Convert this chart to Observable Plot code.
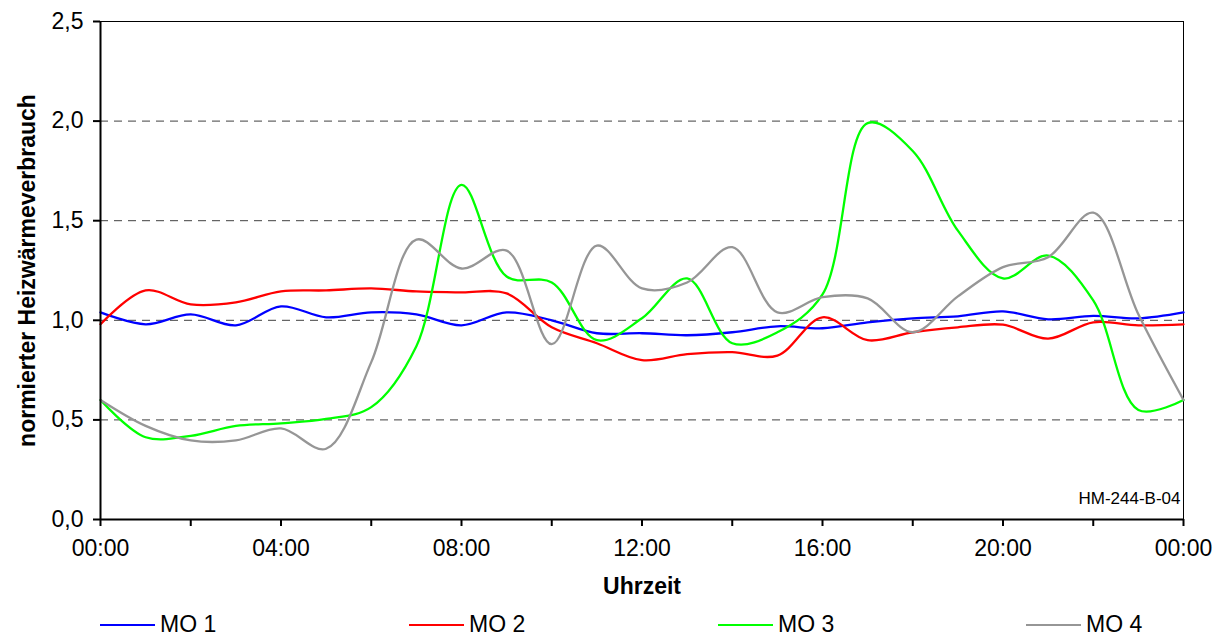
<!DOCTYPE html>
<html>
<head>
<meta charset="utf-8">
<script src="https://cdn.jsdelivr.net/npm/d3@7"></script>
<script src="https://cdn.jsdelivr.net/npm/@observablehq/plot@0.6"></script>
<style>
  html, body { margin: 0; padding: 0; background: #fff; }
  #chart { position: relative; width: 1224px; height: 637px; font-family: "Liberation Sans", Arial, sans-serif; }
  #legend { position: absolute; left: 0; top: 612px; width: 1224px; height: 25px; }
  .item { position: absolute; top: 0; height: 25px; display: flex; align-items: center; font-size: 23px; color: #000; }
  .swatch { width: 55px; height: 0; border-top: 2.5px solid; margin-right: 5px; }
</style>
</head>
<body>
<div id="chart"></div>
<script>
// Hourly measurement points over one day (0 = 00:00 ... 24 = 00:00 next day)
const hours = [0, 1, 2, 3, 4, 5, 6, 7, 8, 9, 10, 11, 12, 13, 14, 15, 16, 17, 18, 19, 20, 21, 22, 23, 24];

// Normalised heat consumption per monitored object
const mo1 = [1.04, 0.98, 1.03, 0.975, 1.07, 1.015, 1.04, 1.03, 0.975, 1.04, 1.0, 0.935, 0.935, 0.925, 0.94, 0.97, 0.96, 0.99, 1.01, 1.02, 1.045, 1.005, 1.022, 1.01, 1.04];
const mo2 = [0.98, 1.15, 1.08, 1.09, 1.145, 1.15, 1.16, 1.145, 1.14, 1.135, 0.965, 0.885, 0.80, 0.83, 0.84, 0.823, 1.015, 0.90, 0.94, 0.965, 0.978, 0.908, 0.99, 0.975, 0.98];
const mo3 = [0.60, 0.413, 0.42, 0.47, 0.483, 0.505, 0.564, 0.87, 1.68, 1.22, 1.19, 0.90, 1.01, 1.21, 0.885, 0.94, 1.13, 1.99, 1.85, 1.45, 1.21, 1.325, 1.10, 0.55, 0.60];
const mo4 = [0.60, 0.47, 0.397, 0.397, 0.457, 0.355, 0.79, 1.405, 1.26, 1.35, 0.88, 1.375, 1.16, 1.19, 1.367, 1.04, 1.116, 1.11, 0.94, 1.12, 1.267, 1.317, 1.54, 1.03, 0.60];

const seriesNames = ["MO 1", "MO 2", "MO 3", "MO 4"];
const seriesValues = [mo1, mo2, mo3, mo4];
const seriesColors = ["#0000ff", "#ff0000", "#00ff00", "#969696"];

// Axis ticks and labels
const xTicks = [0, 2, 4, 6, 8, 10, 12, 14, 16, 18, 20, 22, 24];
const xLabelTicks = [0, 4, 8, 12, 16, 20, 24];
const xTickLabels = ["00:00", "04:00", "08:00", "12:00", "16:00", "20:00", "00:00"];
const yTicks = [0, 0.5, 1.0, 1.5, 2.0, 2.5];
const yGrid = [0.5, 1.0, 1.5, 2.0];

const rows = seriesNames.flatMap((name, i) =>
  hours.map((h, j) => ({series: name, hour: h, value: seriesValues[i][j]}))
);

const font = "'Liberation Sans', Arial, sans-serif";

const plot = Plot.plot({
  width: 1224,
  height: 610,
  marginLeft: 100,
  marginRight: 41,
  marginTop: 21,
  marginBottom: 91,
  style: {fontFamily: font, fontSize: "23px", color: "#000", background: "#fff", overflow: "visible"},
  x: {domain: [0, 24], axis: null},
  y: {domain: [0, 2.5], axis: null},
  color: {domain: seriesNames, range: seriesColors},
  marks: [
    // dashed horizontal gridlines
    Plot.ruleY(yGrid, {stroke: "#404040", strokeWidth: 1, strokeDasharray: "8,6"}),
    // plot frame: top and right thin borders
    Plot.ruleY([2.5], {stroke: "#000", strokeWidth: 1}),
    Plot.ruleX([24], {stroke: "#000", strokeWidth: 1}),
    // series
    Plot.line(rows, {x: "hour", y: "value", z: "series", stroke: "series", strokeWidth: 2.3, curve: "catmull-rom"}),
    // axes
    Plot.axisY({ticks: yTicks, tickSize: 7, tickPadding: 10, tickFormat: d => d.toFixed(1).replace(".", ","), strokeWidth: 2, label: null, fontSize: 23}),
    Plot.axisX({ticks: xTicks, tickSize: 7, tickPadding: 0, tickFormat: () => "", strokeWidth: 2, label: null}),
    Plot.text(xLabelTicks, {x: d => d, frameAnchor: "bottom", dy: 36, text: (d, i) => xTickLabels[i], fontSize: 23}),
    Plot.ruleX([0], {stroke: "#000", strokeWidth: 2}),
    Plot.ruleY([0], {stroke: "#000", strokeWidth: 2}),
    // axis titles
    Plot.text(["normierter Heizwärmeverbrauch"], {frameAnchor: "left", textAnchor: "middle", dx: -73, rotate: -90, fontWeight: "bold", fontSize: 23}),
    Plot.text(["Uhrzeit"], {frameAnchor: "bottom", dy: 74, fontWeight: "bold", fontSize: 23}),
    // chart id
    Plot.text(["HM-244-B-04"], {frameAnchor: "bottom-right", dx: -3, dy: -16, textAnchor: "end", fontSize: 17})
  ]
});

const chart = document.getElementById("chart");
chart.appendChild(plot);

// legend below the chart
const legend = document.createElement("div");
legend.id = "legend";
const legendLeft = [100, 409, 718, 1026];
seriesNames.forEach((name, i) => {
  const item = document.createElement("div");
  item.className = "item";
  item.style.left = legendLeft[i] + "px";
  const sw = document.createElement("span");
  sw.className = "swatch";
  sw.style.borderTopColor = seriesColors[i];
  const label = document.createElement("span");
  label.textContent = name;
  item.appendChild(sw);
  item.appendChild(label);
  legend.appendChild(item);
});
chart.appendChild(legend);
</script>
</body>
</html>
